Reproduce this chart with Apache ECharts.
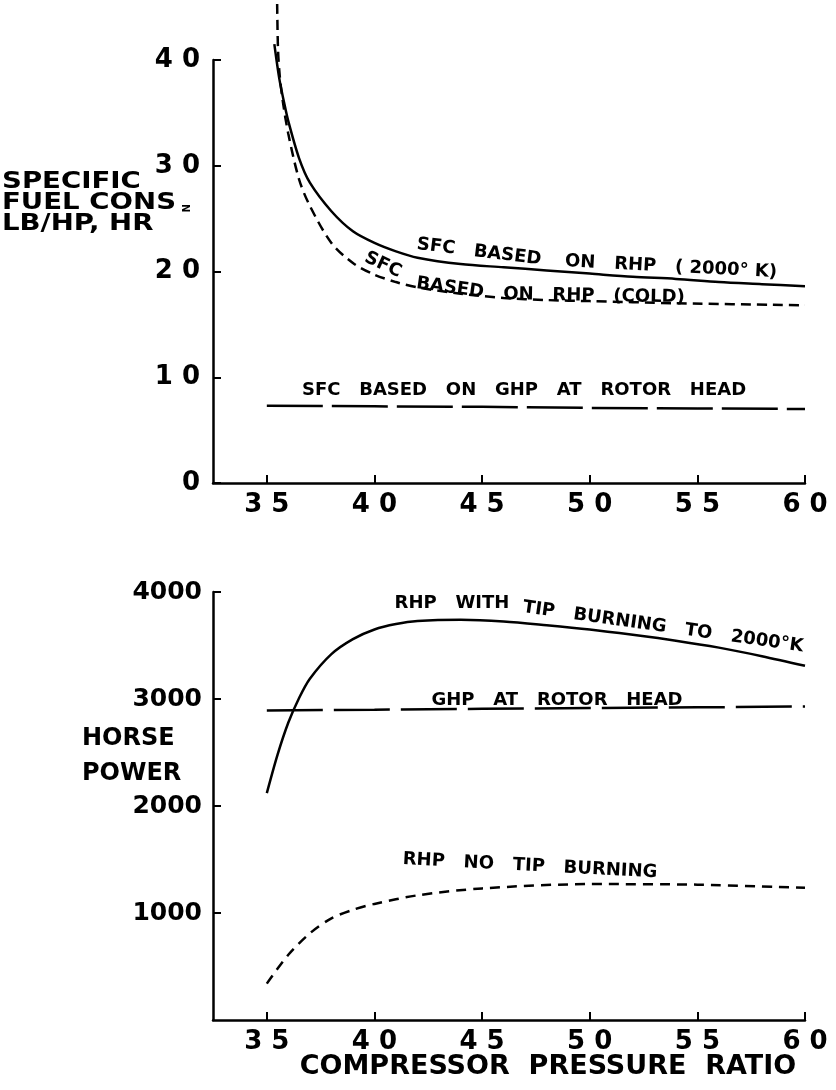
<!DOCTYPE html>
<html>
<head>
<meta charset="utf-8">
<script src="https://cdn.jsdelivr.net/npm/echarts@6/dist/echarts.min.js"></script>
<style>
html,body{margin:0;padding:0;background:#fff;}
#chart{width:836px;height:1090px;}
</style>
</head>
<body>
<div id="chart"></div>
<script>
// ---------- data ----------
var xTicks = [3.5, 4.0, 4.5, 5.0, 5.5, 6.0];
var sfcTicks = [0, 1, 2, 3, 4];
var hpTicks = [1000, 2000, 3000, 4000];

// Top panel: specific fuel consumption, lb/hp.hr
var sfcRhp2000 = [
  [3.535, 4.15], [3.545, 4.00], [3.56, 3.80], [3.58, 3.60], [3.6, 3.42],
  [3.65, 3.07], [3.7, 2.84], [3.8, 2.57], [3.9, 2.38], [4.0, 2.27],
  [4.1, 2.19], [4.2, 2.13], [4.4, 2.07], [4.6, 2.04], [4.8, 2.01],
  [5.0, 1.98], [5.2, 1.95], [5.4, 1.93], [5.6, 1.90], [5.8, 1.88], [6.0, 1.86]
];
var sfcRhpCold = [
  [3.548, 4.53], [3.552, 4.10], [3.56, 3.85], [3.575, 3.60], [3.6, 3.30],
  [3.65, 2.87], [3.7, 2.62], [3.8, 2.27], [3.9, 2.08], [4.0, 1.97],
  [4.1, 1.90], [4.2, 1.85], [4.4, 1.79], [4.6, 1.75], [4.8, 1.73],
  [5.0, 1.72], [5.4, 1.70], [6.0, 1.68]
];
var sfcGhp = [[3.5, 0.73], [4.0, 0.725], [4.5, 0.72], [5.0, 0.71], [5.5, 0.705], [6.0, 0.70]];

// Bottom panel: horse power
var rhpTipBurning = [
  [3.5, 2120], [3.55, 2480], [3.6, 2780], [3.65, 3010], [3.7, 3190],
  [3.8, 3420], [3.9, 3560], [4.0, 3650], [4.1, 3700], [4.2, 3728],
  [4.4, 3740], [4.6, 3725], [4.8, 3690], [5.0, 3650], [5.2, 3600],
  [5.4, 3545], [5.6, 3480], [5.8, 3400], [6.0, 3310]
];
var ghpRotorHead = [[3.5, 2893], [4.0, 2900], [4.5, 2908], [5.0, 2915], [5.5, 2922], [6.0, 2930]];
var rhpNoTipBurning = [
  [3.5, 340], [3.6, 610], [3.7, 810], [3.8, 950], [3.9, 1030],
  [4.0, 1085], [4.2, 1165], [4.5, 1230], [5.0, 1270], [5.5, 1265], [6.0, 1235]
];

// ---------- chart ----------
var FONT = '"DejaVu Sans"';
var chart = echarts.init(document.getElementById('chart'), null, {renderer: 'canvas'});

function xFmt(v) { return v.toFixed(1).replace('.', ' '); }
function sfcFmt(v) { return v === 0 ? '0' : v.toFixed(1).replace('.', ' '); }

var axisLineStyle = {color: '#000', width: 2.5};
function xAxisCfg(gi) {
  return {
    gridIndex: gi, type: 'value', min: 3.25, max: 6.0,
    axisLine: {show: true, lineStyle: axisLineStyle, onZero: false},
    axisTick: {show: true, inside: true, length: 8, lineStyle: {color: '#000', width: 2}, customValues: xTicks},
    axisLabel: {color: '#000', fontFamily: 'DejaVu Sans', fontWeight: 'bold', fontSize: 26, margin: 9,
      customValues: xTicks, formatter: xFmt},
    splitLine: {show: false}
  };
}

var lineBase = {type: 'line', showSymbol: false, symbol: 'none', clip: false, animation: false, smooth: 0.3};

function label(text, x, y, rotDeg, size) {
  return {type: 'text', x: x, y: y, rotation: (rotDeg || 0) * Math.PI / 180,
    style: {text: text, fill: '#000', font: 'bold ' + (size || 18) + 'px ' + FONT,
      align: 'center', verticalAlign: 'middle'}};
}

var option = {
  backgroundColor: '#fff',
  animation: false,
  grid: [
    {left: 213, top: 60, width: 592, height: 423},
    {left: 213, top: 592, width: 592, height: 428}
  ],
  xAxis: [xAxisCfg(0), xAxisCfg(1)],
  yAxis: [
    {gridIndex: 0, type: 'value', min: 0, max: 4, interval: 1,
      axisLine: {show: true, lineStyle: axisLineStyle, onZero: false},
      axisTick: {show: true, inside: true, length: 8, lineStyle: {color: '#000', width: 2}},
      axisLabel: {color: '#000', fontFamily: 'DejaVu Sans', fontWeight: 'bold', fontSize: 26, margin: 13, formatter: sfcFmt},
      splitLine: {show: false}},
    {gridIndex: 1, type: 'value', min: 0, max: 4000, interval: 1000,
      axisLine: {show: true, lineStyle: axisLineStyle, onZero: false},
      axisTick: {show: true, inside: true, length: 8, lineStyle: {color: '#000', width: 2}},
      axisLabel: {color: '#000', fontFamily: 'DejaVu Sans', fontWeight: 'bold', fontSize: 25, margin: 11,
        showMinLabel: false, formatter: function (v) { return hpTicks.indexOf(v) >= 0 ? String(v) : ''; }},
      splitLine: {show: false}}
  ],
  series: [
    Object.assign({}, lineBase, {name: 'SFC based on RHP (2000°K)', xAxisIndex: 0, yAxisIndex: 0,
      data: sfcRhp2000, lineStyle: {color: '#000', width: 2.5}}),
    Object.assign({}, lineBase, {name: 'SFC based on RHP (cold)', xAxisIndex: 0, yAxisIndex: 0,
      data: sfcRhpCold, lineStyle: {color: '#000', width: 2.5, type: [10, 6]}}),
    Object.assign({}, lineBase, {name: 'SFC based on GHP at rotor head', xAxisIndex: 0, yAxisIndex: 0,
      smooth: false, data: sfcGhp, lineStyle: {color: '#000', width: 2.5, type: [56, 9]}}),
    Object.assign({}, lineBase, {name: 'RHP with tip burning to 2000°K', xAxisIndex: 1, yAxisIndex: 1,
      data: rhpTipBurning, lineStyle: {color: '#000', width: 2.5}}),
    Object.assign({}, lineBase, {name: 'GHP at rotor head', xAxisIndex: 1, yAxisIndex: 1,
      smooth: false, data: ghpRotorHead, lineStyle: {color: '#000', width: 2.5, type: [56, 11]}}),
    Object.assign({}, lineBase, {name: 'RHP no tip burning', xAxisIndex: 1, yAxisIndex: 1,
      data: rhpNoTipBurning, lineStyle: {color: '#000', width: 2.5, type: [10, 7]}})
  ],
  graphic: [
    // axis titles
    {type: 'text', x: 2, y: 172, scaleX: 1.2, style: {text: 'SPECIFIC\nFUEL CONS\nLB/HP, HR', fill: '#000',
      font: 'bold 23px ' + FONT, lineHeight: 21}},
    {type: 'text', x: 190, y: 204, rotation: -Math.PI / 2, style: {text: 'N', fill: '#000', font: 'bold 10px ' + FONT}},
    {type: 'text', x: 82, y: 721, style: {text: 'HORSE\nPOWER', fill: '#000', font: 'bold 24px ' + FONT, lineHeight: 35}},
    label('COMPRESSOR  PRESSURE  RATIO', 548, 1067, 0, 27),
    // curve labels - top
    label('SFC   BASED', 479, 252, -7),
    label('ON   RHP   ( 2000° K)', 671, 267, -3),
    label('SFC', 383, 265, -25),
    label('BASED', 450, 288, -8),
    label('ON   RHP   (COLD)', 594, 296, -1),
    label('SFC   BASED   ON   GHP   AT   ROTOR   HEAD', 524, 390, 0),
    // curve labels - bottom
    label('RHP   WITH', 452, 603, 0),
    label('TIP   BURNING   TO   2000°K', 663, 627, -8),
    label('GHP   AT   ROTOR   HEAD', 557, 700, 0),
    label('RHP   NO   TIP   BURNING', 530, 866, -3)
  ]
};
chart.setOption(option);
</script>
</body>
</html>
